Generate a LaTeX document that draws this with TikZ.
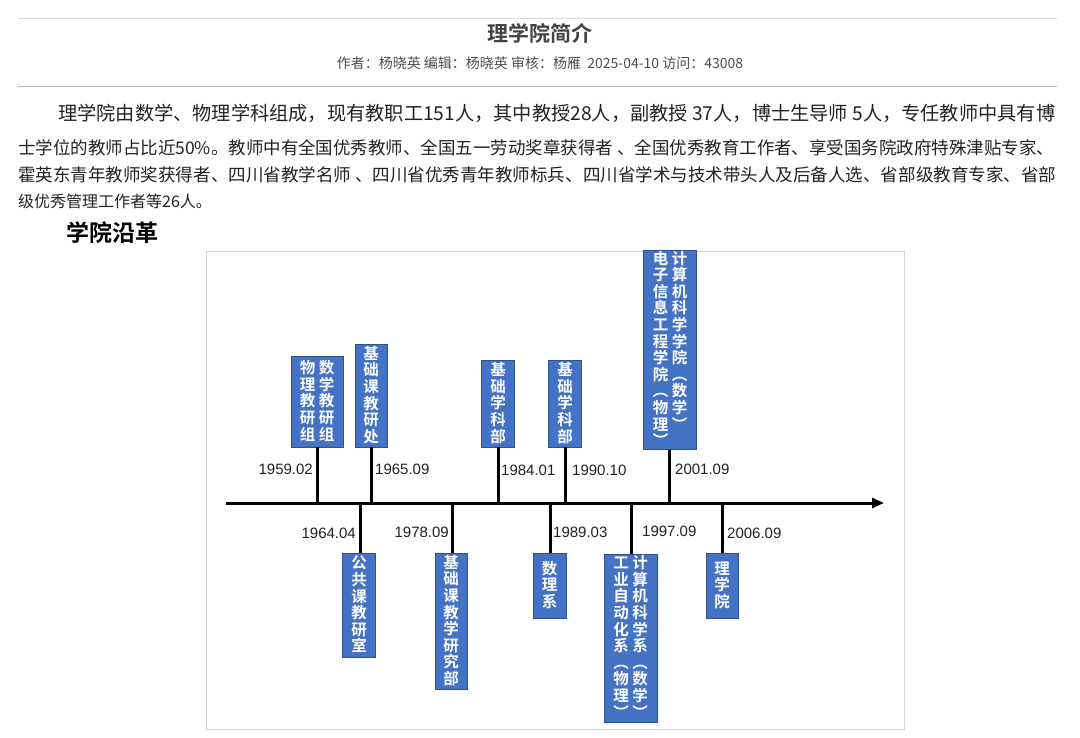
\documentclass[tikz,border=0pt]{standalone}
\usepackage{fontspec}
\setmainfont{Liberation Sans}
\newfontfamily\cjk{Noto Sans CJK SC}
\newfontfamily\cjkb{Noto Sans CJK SC Bold}
\usetikzlibrary{arrows.meta}
\definecolor{boxblue}{HTML}{4472C4}
\definecolor{boxedge}{HTML}{2F528F}
\definecolor{txt}{HTML}{222222}
\ExplSyntaxOn
\NewDocumentCommand\vt{m}{\vtop{\offinterlineskip \tl_map_inline:nn{#1}{\hbox to 16pt{\hss\vrule width0pt height 13.6pt depth 3pt \raisebox{0pt}[13.6pt][3pt]{##1}\hss}}}}
\ExplSyntaxOff
\newcommand\vtt[2]{\hbox{\vt{#1}\kern3pt\vt{#2}}}
\tikzset{
 vbox/.style={fill=boxblue,draw=boxedge,line width=0.8pt,text=white,inner sep=0pt,font=\cjkb\fontsize{15.5}{16.6}\selectfont},
 stick/.style={line width=3pt},
 date/.style={font=\fontsize{15}{17}\selectfont,text=txt,inner sep=0pt},
 para/.style={font=\cjk\fontsize{16}{18}\selectfont,text=txt,inner sep=0pt,anchor=west},
}
\begin{document}
\begin{tikzpicture}[x=1pt,y=-1pt]
\useasboundingbox (0,0) rectangle (1080,737);
\fill[white] (0,0) rectangle (1080,737);
% header
\draw[gray!30,line width=0.6pt] (18,18) -- (1057,18);
\node (title) at (540,33) {\cjkb\fontsize{21}{23}\selectfont\textcolor{txt!85}{理学院简介}};
\node (meta) at (540,63) {\cjk\fontsize{14}{16}\selectfont\textcolor{txt!80}{作者：杨晓英 编辑：杨晓英 审核：杨雁\ \ 2025-04-10 访问：43008}};
\draw[gray!60,line width=1pt] (18,86) -- (1057,86);
% paragraph
\node[para] (p1) at (58,113) {\resizebox{997pt}{!}{理学院由数学、物理学科组成，现有教职工151人，其中教授28人，副教授 37人，博士生导师 5人，专任教师中具有博}};
\node[para] (p2) at (18,148) {\resizebox{1036pt}{!}{士学位的教师占比近50\%。教师中有全国优秀教师、全国五一劳动奖章获得者 、全国优秀教育工作者、享受国务院政府特殊津贴专家、}};
\node[para] (p3) at (18,175) {\resizebox{1038pt}{!}{霍英东青年教师奖获得者、四川省教学名师 、四川省优秀青年教师标兵、四川省学术与技术带头人及后备人选、省部级教育专家、省部}};
\node[para] (p4) at (18,201) {级优秀管理工作者等26人。};
\node[anchor=west,inner sep=0pt] (h2) at (66,233) {\cjkb\fontsize{23}{25}\selectfont 学院沿革};
% frame
\draw[gray!35,line width=0.8pt] (206,251) rectangle (904,729);
\coordinate (a0) at (226,503);
\coordinate (a1) at (884,503);
\draw[line width=3pt,-{Triangle[length=12pt,width=10pt]}] (a0) -- (a1);
% above boxes
\node[vbox,minimum width=52pt,minimum height=91pt] (b1) at (317,401.5) {\vtt{物理教研组}{数学教研组}};
\node[vbox,minimum width=32pt,minimum height=103pt] (b2) at (371,395.5) {\vt{基础课教研处}};
\node[vbox,minimum width=33pt,minimum height=87pt] (b3) at (498,403.5) {\vt{基础学科部}};
\node[vbox,minimum width=33pt,minimum height=87pt] (b4) at (565,403.5) {\vt{基础学科部}};
\node[vbox,minimum width=53pt,minimum height=192pt] (b5) at (670,350) {\vtt{电子信息工程学院︵物理︶}{计算机科学学院︵数学︶}};
\coordinate (t1) at (317,503); \coordinate (t2) at (371,503);
\coordinate (t3) at (498,503); \coordinate (t4) at (565,503);
\coordinate (t5) at (669,503);
\draw[stick] (b1.south) -- (t1);
\draw[stick] (b2.south) -- (t2);
\draw[stick] (b3.south) -- (t3);
\draw[stick] (b4.south) -- (t4);
\draw[stick] (b5.south -| t5) -- (t5);
\node[date,anchor=east] (d1) at (313,469) {1959.02};
\node[date,anchor=west] (d2) at (375,469) {1965.09};
\node[date,anchor=west] (d3) at (501,470) {1984.01};
\node[date,anchor=west] (d4) at (572,470) {1990.10};
\node[date,anchor=west] (d5) at (675,469) {2001.09};
% below boxes
\node[vbox,minimum width=33pt,minimum height=104pt] (c1) at (359,605) {\vt{公共课教研室}};
\node[vbox,minimum width=32pt,minimum height=136pt] (c2) at (451,621) {\vt{基础课教学研究部}};
\node[vbox,minimum width=33pt,minimum height=65pt] (c3) at (549.5,585.5) {\vt{数理系}};
\node[vbox,minimum width=53pt,minimum height=168pt] (c4) at (630.5,638) {\vtt{工业自动化系︵物理︶}{计算机科学系︵数学︶}};
\node[vbox,minimum width=32pt,minimum height=65pt] (c5) at (722,585.5) {\vt{理学院}};
\coordinate (s1) at (360,503); \coordinate (s2) at (452,503);
\coordinate (s3) at (550,503); \coordinate (s4) at (631,503);
\coordinate (s5) at (722,503);
\draw[stick] (s1) -- (s1 |- c1.north);
\draw[stick] (s2) -- (s2 |- c2.north);
\draw[stick] (s3) -- (s3 |- c3.north);
\draw[stick] (s4) -- (s4 |- c4.north);
\draw[stick] (s5) -- (s5 |- c5.north);
\node[date,anchor=east] (e1) at (356,533) {1964.04};
\node[date,anchor=east] (e2) at (449,532) {1978.09};
\node[date,anchor=west] (e3) at (553,532) {1989.03};
\node[date,anchor=west] (e4) at (642,531) {1997.09};
\node[date,anchor=west] (e5) at (727,533) {2006.09};
\end{tikzpicture}
\end{document}
